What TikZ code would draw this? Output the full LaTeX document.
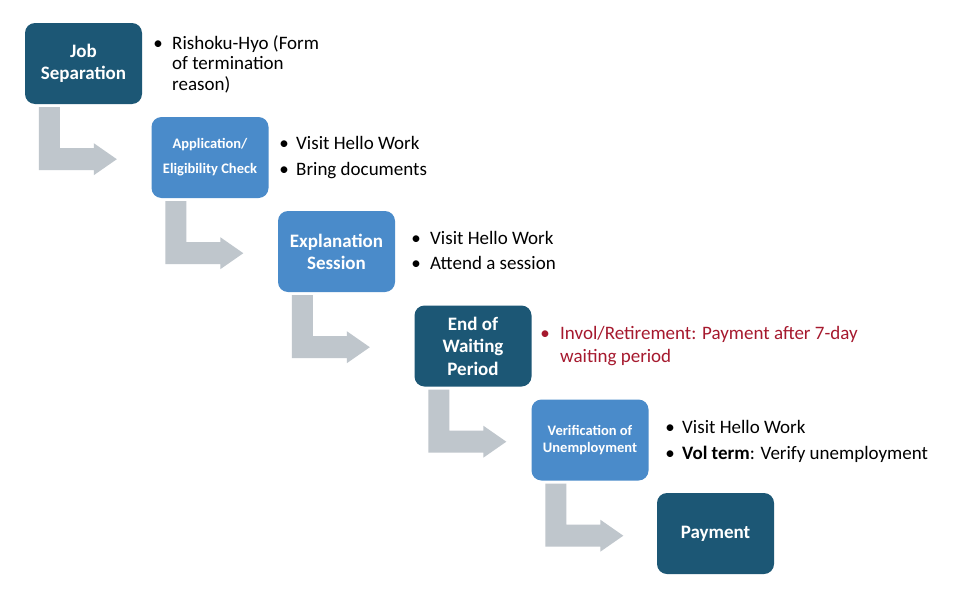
\documentclass[tikz,border=0pt]{standalone}
\usepackage{fontspec}
\setmainfont{Carlito}
\definecolor{darkbox}{HTML}{1C5775}
\definecolor{lightbox}{HTML}{4A8BCA}
\definecolor{arrowgray}{HTML}{BFC6CC}
\definecolor{textred}{HTML}{A6192E}
\tikzset{
  stepbox/.style={rounded corners=10pt, minimum width=117pt, minimum height=81pt,
    inner sep=0pt, align=center, text=white},
  darkstep/.style={stepbox, fill=darkbox, font=\bfseries\fontsize{19}{22.5}\selectfont},
  lightstep/.style={stepbox, fill=lightbox, font=\bfseries\fontsize{19}{22}\selectfont},
  smallstep/.style={stepbox, fill=lightbox},
  bul/.style={anchor=base, inner sep=0pt, font=\fontsize{19}{22}\selectfont},
  txt/.style={anchor=base west, inner sep=0pt, font=\fontsize{19}{22}\selectfont},
  bentfill/.style={fill=arrowgray}
}
\newcommand{\bentarrowfrom}[1]{%
  \begin{scope}[shift={(#1.south west)}]
    \fill[bentfill] (14,3) -- (35,3) -- (35,44) -- (69,44) -- (69,39) -- (92,55)
      -- (69,71) -- (69,66) -- (14,66) -- cycle;
  \end{scope}}
\begin{document}
\begin{tikzpicture}[x=1pt,y=-1pt]
\useasboundingbox (0,0) rectangle (953,589);
\fill[white] (0,0) rectangle (953,589);

% boxes
\node[darkstep] (n1) at (83.5,63.5) {Job\\Separation};
\node[smallstep, font=\bfseries\fontsize{14.5}{25}\selectfont] (n2) at (210,157.5) {Application/\\Eligibility Check};
\node[lightstep] (n3) at (336.5,251.5) {Explanation\\Session};
\node[darkstep] (n4) at (473,346) {End of\\Waiting\\Period};
\node[smallstep, font=\bfseries\fontsize{14.5}{17.5}\selectfont] (n5) at (590,440) {Verification of\\Unemployment};
\node[darkstep] (n6) at (715.5,533.5) {Payment};

% bent arrows
\bentarrowfrom{n1}
\bentarrowfrom{n2}
\bentarrowfrom{n3}
\bentarrowfrom{n4}
\bentarrowfrom{n5}

% bullets for box 1
\node[bul] (b1) at (158,49) {\textbullet};
\node[txt] (t1a) at (172,49) {Rishoku-Hyo (Form};
\node[txt] (t1b) at (172,69.5) {of termination};
\node[txt] (t1c) at (172,90) {reason)};

% box 2
\node[bul] (b2a) at (284,149) {\textbullet};
\node[txt] (t2a) at (296,149) {Visit Hello Work};
\node[bul] (b2b) at (284,175) {\textbullet};
\node[txt] (t2b) at (296,175) {Bring documents};

% box 3
\node[bul] (b3a) at (416,244) {\textbullet};
\node[txt] (t3a) at (430,244) {Visit Hello Work};
\node[bul] (b3b) at (416,269) {\textbullet};
\node[txt] (t3b) at (430,269) {Attend a session};

% box 4
\node[bul, text=textred] (b4) at (545,339) {\textbullet};
\node[txt, text=textred] (t4a) at (560,339) {Invol/Retirement: Payment after 7-day};
\node[txt, text=textred] (t4b) at (560,362) {waiting period};

% box 5
\node[bul] (b5a) at (670,433) {\textbullet};
\node[txt] (t5a) at (682,433) {Visit Hello Work};
\node[bul] (b5b) at (670,459) {\textbullet};
\node[txt] (t5b) at (682,459) {\textbf{Vol term}: Verify unemployment};
\end{tikzpicture}
\end{document}
